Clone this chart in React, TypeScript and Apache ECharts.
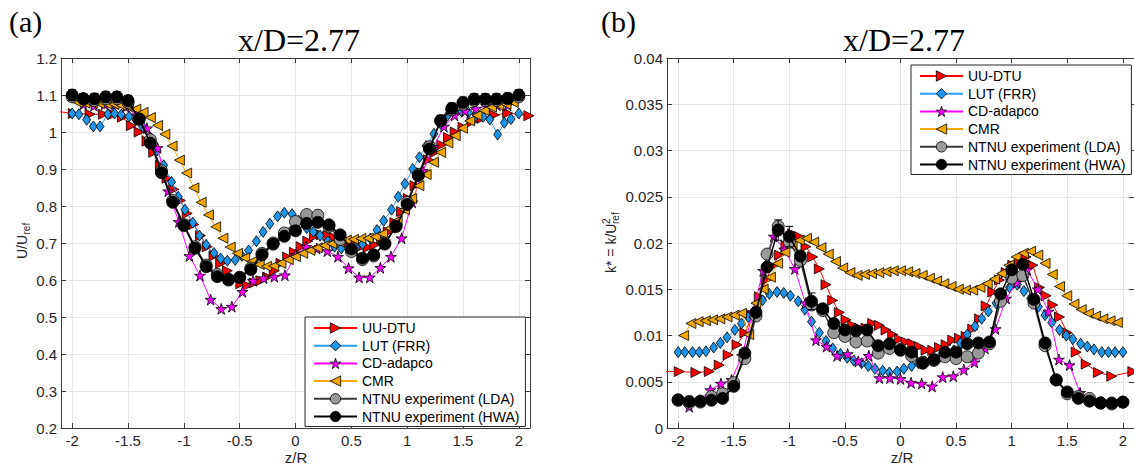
import { useEffect, useRef } from 'react';
import * as echarts from 'echarts';

// ---------- categories / names ----------
const names = ['UU-DTU', 'LUT (FRR)', 'CD-adapco', 'CMR', 'NTNU experiment (LDA)', 'NTNU experiment (HWA)'];
const xTicks = [-2, -1.5, -1, -0.5, 0, 0.5, 1, 1.5, 2];

// ---------- z/R positions of each data set ----------
const zExp = [-2, -1.9, -1.8, -1.7, -1.6, -1.5, -1.4, -1.3, -1.2, -1.1, -1, -0.9, -0.8, -0.7, -0.6, -0.5, -0.4, -0.3, -0.2, -0.1, 0,
  0.1, 0.2, 0.3, 0.4, 0.5, 0.6, 0.7, 0.8, 0.9, 1, 1.1, 1.2, 1.3, 1.4, 1.5, 1.6, 1.7, 1.8, 1.9, 2];
const zUU = [-2.25, -1.99, -1.84, -1.72, -1.63, -1.55, -1.47, -1.4,
  -1.33, -1.27, -1.21, -1.15, -1.09, -1.03, -0.97, -0.91, -0.85, -0.79, -0.73, -0.67, -0.61, -0.55, -0.49, -0.43, -0.37, -0.31, -0.25, -0.19, -0.13, -0.07, -0.01,
  0.05, 0.11, 0.17, 0.23, 0.29, 0.35, 0.41, 0.47, 0.53, 0.59, 0.65, 0.71, 0.77, 0.83, 0.89, 0.95, 1.01, 1.07, 1.13, 1.19, 1.25, 1.31, 1.37, 1.43,
  1.5, 1.58, 1.67, 1.78, 1.9, 2.09];
const zLUT = [-2, -1.94, -1.87, -1.81, -1.75, -1.68, -1.62, -1.56, -1.49, -1.43, -1.37, -1.3, -1.24, -1.18, -1.11, -1.05, -0.99, -0.92, -0.86, -0.8,
  -0.73, -0.67, -0.61, -0.54, -0.48, -0.42, -0.35, -0.29, -0.23, -0.16, -0.1, -0.03, 0.03, 0.1, 0.16, 0.22, 0.29, 0.35, 0.41, 0.48,
  0.54, 0.6, 0.67, 0.73, 0.79, 0.86, 0.92, 0.98, 1.05, 1.11, 1.17, 1.24, 1.3, 1.36, 1.43, 1.49, 1.55, 1.62, 1.68, 1.74, 1.81, 1.87, 1.93, 2];
const zCD = [-1.9, -1.805, -1.71, -1.615, -1.52, -1.425, -1.33, -1.235, -1.14, -1.045, -0.95, -0.855, -0.76, -0.665, -0.57, -0.475, -0.38, -0.285, -0.19, -0.095, 0,
  0.095, 0.19, 0.285, 0.38, 0.475, 0.57, 0.665, 0.76, 0.855, 0.95, 1.045, 1.14, 1.235, 1.33, 1.425, 1.52, 1.615, 1.71, 1.805, 1.9];
const zCMR = [-1.95, -1.885, -1.82, -1.755, -1.69, -1.625, -1.56, -1.495, -1.43, -1.365, -1.3, -1.235, -1.17, -1.105, -1.04, -0.975, -0.91, -0.845, -0.78, -0.715,
  -0.65, -0.585, -0.52, -0.455, -0.39, -0.325, -0.26, -0.195, -0.13, -0.065, 0, 0.065, 0.13, 0.195, 0.26, 0.325, 0.39, 0.455, 0.52, 0.585,
  0.65, 0.715, 0.78, 0.845, 0.91, 0.975, 1.04, 1.105, 1.17, 1.235, 1.3, 1.365, 1.43, 1.495, 1.56, 1.625, 1.69, 1.755, 1.82, 1.885, 1.95];

// ---------- panel (a): U/Uref ----------
const uUU = [1.06, 1.05, 1.048, 1.048, 1.048, 1.04, 1.017, 1.0,
  0.975, 0.945, 0.91, 0.875, 0.845, 0.815, 0.78, 0.75, 0.72, 0.69, 0.665, 0.645, 0.625, 0.605, 0.59, 0.585, 0.592, 0.598, 0.608, 0.625, 0.645, 0.662, 0.675,
  0.69, 0.705, 0.718, 0.722, 0.72, 0.715, 0.708, 0.702, 0.695, 0.69, 0.688, 0.695, 0.71, 0.73, 0.755, 0.785, 0.82, 0.855, 0.89, 0.925, 0.945, 0.965, 0.985, 1.0,
  1.013, 1.027, 1.037, 1.046, 1.051, 1.044];
const uLUT = [1.05, 1.048, 1.033, 1.015, 1.015, 1.048, 1.05, 1.047, 1.042, 1.033, 1.015, 0.985, 0.95, 0.91, 0.865, 0.825, 0.79, 0.755, 0.72, 0.695,
  0.673, 0.658, 0.652, 0.654, 0.665, 0.68, 0.705, 0.73, 0.752, 0.772, 0.782, 0.778, 0.76, 0.74, 0.73, 0.72, 0.705, 0.69, 0.685, 0.682,
  0.688, 0.697, 0.712, 0.735, 0.76, 0.79, 0.825, 0.86, 0.9, 0.932, 0.962, 0.995, 1.022, 1.044, 1.055, 1.055, 1.052, 1.047, 1.041, 1.034, 0.993, 1.025, 1.035, 1.05];
const uCD = [1.075, 1.071, 1.075, 1.075, 1.068, 1.045, 1.01, 0.957, 0.84, 0.757, 0.665, 0.612, 0.547, 0.522, 0.528, 0.568, 0.598, 0.605, 0.609, 0.613, 0.668,
  0.69, 0.685, 0.678, 0.663, 0.632, 0.607, 0.607, 0.633, 0.663, 0.713, 0.81, 0.895, 0.96, 1.015, 1.045, 1.057, 1.063, 1.07, 1.072, 1.072];
const uCMR = [1.08, 1.078, 1.077, 1.077, 1.076, 1.075, 1.072, 1.068, 1.062, 1.053, 1.039, 1.018, 0.994, 0.962, 0.924, 0.889, 0.849, 0.81, 0.776, 0.744,
  0.713, 0.689, 0.672, 0.66, 0.65, 0.642, 0.637, 0.638, 0.645, 0.655, 0.663, 0.672, 0.68, 0.687, 0.693, 0.698, 0.703, 0.708, 0.71, 0.712,
  0.713, 0.717, 0.725, 0.74, 0.76, 0.79, 0.82, 0.855, 0.885, 0.918, 0.945, 0.97, 0.99, 1.01, 1.03, 1.045, 1.058, 1.067, 1.072, 1.075, 1.08];
const uLDA = [1.095, 1.09, 1.085, 1.09, 1.09, 1.08, 1.035, 0.979, 0.895, 0.815, 0.75, 0.69, 0.64, 0.615, 0.602, 0.607, 0.632, 0.672, 0.7, 0.727, 0.758,
  0.777, 0.775, 0.745, 0.71, 0.677, 0.655, 0.665, 0.7, 0.745, 0.81, 0.885, 0.96, 1.03, 1.06, 1.075, 1.085, 1.085, 1.085, 1.09, 1.095];
const uHWA = [1.1, 1.09, 1.09, 1.095, 1.095, 1.085, 1.035, 0.97, 0.89, 0.81, 0.747, 0.686, 0.636, 0.609, 0.6, 0.607, 0.628, 0.668, 0.697, 0.718, 0.733,
  0.753, 0.756, 0.749, 0.722, 0.684, 0.659, 0.668, 0.697, 0.745, 0.804, 0.882, 0.954, 1.031, 1.064, 1.08, 1.089, 1.089, 1.089, 1.091, 1.1];
const uHWAerr = [0.014, 0.014, 0.014, 0.014, 0.014, 0.014, 0, 0, 0, 0, 0, 0, 0, 0, 0, 0, 0, 0, 0, 0, 0,
  0, 0, 0, 0, 0, 0, 0, 0, 0, 0, 0, 0, 0.014, 0.014, 0.014, 0.014, 0.014, 0.014, 0.014, 0.014];

// ---------- panel (b): k* ----------
const kUU = [0.0061, 0.0061, 0.006, 0.0061, 0.0068, 0.0079, 0.009, 0.0103,
  0.0122, 0.0142, 0.016, 0.0175, 0.0187, 0.0197, 0.021, 0.0207, 0.0196, 0.0185, 0.0172, 0.0155, 0.0138, 0.0125, 0.0117, 0.0111, 0.0108, 0.0108, 0.0113, 0.0111, 0.0106, 0.0101, 0.0096,
  0.0093, 0.0091, 0.0088, 0.0084, 0.0084, 0.0087, 0.009, 0.0095, 0.0097, 0.0099, 0.0107, 0.0118, 0.0132, 0.0147, 0.016, 0.0168, 0.0176, 0.018, 0.0185, 0.0176, 0.0152, 0.0143, 0.0133, 0.012,
  0.0103, 0.0082, 0.0069, 0.006, 0.0056, 0.0061];
const kLUT = [0.0082, 0.0082, 0.0082, 0.0082, 0.0083, 0.0087, 0.0092, 0.0098, 0.0106, 0.0113, 0.012, 0.0129, 0.0138, 0.0145, 0.0147, 0.0146, 0.0143, 0.0137, 0.0128, 0.0115,
  0.0103, 0.0094, 0.0086, 0.008, 0.0076, 0.0073, 0.007, 0.0067, 0.0064, 0.0062, 0.006, 0.0061, 0.0064, 0.0067, 0.007, 0.0072, 0.0074, 0.0076, 0.0079, 0.0084,
  0.0092, 0.0101, 0.011, 0.0118, 0.0126, 0.0135, 0.0143, 0.0152, 0.0155, 0.0148, 0.014, 0.0131, 0.0122, 0.0114, 0.0106, 0.01, 0.0096, 0.0091, 0.0088, 0.0085, 0.0082, 0.0082, 0.0082, 0.0082];
const kCD = [0.0023, 0.003, 0.0041, 0.0048, 0.0052, 0.0078, 0.0125, 0.017, 0.0207, 0.0193, 0.0172, 0.0135, 0.0095, 0.0088, 0.0078, 0.008, 0.0072, 0.0078, 0.0054, 0.0054, 0.0053,
  0.0049, 0.0048, 0.0045, 0.0055, 0.0056, 0.0063, 0.0071, 0.0086, 0.0107, 0.014, 0.0157, 0.0171, 0.015, 0.0126, 0.0074, 0.0068, 0.0038, 0.003, 0.0028, 0.0027];
const kCMR = [0.01, 0.0113, 0.0115, 0.0116, 0.0117, 0.0118, 0.012, 0.0122, 0.0124, 0.0101, 0.0135, 0.015, 0.0163, 0.0178, 0.019, 0.0197, 0.0203, 0.0205, 0.0201, 0.0195,
  0.0188, 0.018, 0.0173, 0.0168, 0.0165, 0.0166, 0.0167, 0.0168, 0.0169, 0.017, 0.017, 0.0169, 0.0167, 0.0165, 0.0162, 0.0159, 0.0156, 0.0153, 0.015, 0.0149,
  0.0149, 0.0152, 0.0156, 0.0161, 0.0167, 0.0176, 0.0185, 0.0189, 0.0191, 0.0187, 0.0178, 0.0166, 0.0153, 0.0143, 0.0134, 0.0128, 0.0124, 0.0121, 0.0118, 0.0116, 0.0114];
const kLDA = [0.003, 0.0027, 0.0028, 0.0034, 0.0037, 0.0049, 0.0075, 0.0121, 0.0188, 0.0218, 0.0201, 0.0181, 0.0133, 0.0127, 0.0103, 0.0099, 0.0093, 0.0094, 0.0081, 0.0086, 0.0085,
  0.0078, 0.0071, 0.0073, 0.0077, 0.0075, 0.0077, 0.0081, 0.0091, 0.0137, 0.0162, 0.0165, 0.0135, 0.0089, 0.0052, 0.0037, 0.0034, 0.0032, 0.0027, 0.0026, 0.0028];
const kHWA = [0.00305, 0.00287, 0.0029, 0.003, 0.0032, 0.0045, 0.0081, 0.0125, 0.0174, 0.0214, 0.0207, 0.0186, 0.0137, 0.0129, 0.0113, 0.0106, 0.0105, 0.0106, 0.0089, 0.0091, 0.0084,
  0.0082, 0.007, 0.0074, 0.0082, 0.0082, 0.0091, 0.0092, 0.0093, 0.0145, 0.0171, 0.0177, 0.0139, 0.0092, 0.0052, 0.0039, 0.0032, 0.0029, 0.0027, 0.0027, 0.0028];
const kHWAerr = [0, 0, 0, 0, 0, 0, 0, 0, 0, 0.0011, 0.0011, 0, 0.0009, 0, 0, 0, 0, 0, 0, 0, 0,
  0, 0, 0, 0, 0, 0, 0, 0, 0, 0, 0, 0, 0, 0, 0, 0, 0, 0, 0, 0];

// ---------- styling ----------
const STAR = 'path://M50,0L61.2,34.5L97.6,34.5L68.2,55.9L79.4,90.5L50,69.1L20.6,90.5L31.8,55.9L2.4,34.5L38.8,34.5Z';
const look: any[] = [
  { symbol: 'triangle', rotate: -90, size: 10, color: '#ff0000', line: '#ff0000', width: 1 },
  { symbol: 'diamond', rotate: 0, size: [8, 11], color: '#1e95e8', line: '#2a9df4', width: 1 },
  { symbol: STAR, rotate: 0, size: 11, color: '#ff00ff', line: '#ff00ff', width: 1 },
  { symbol: 'triangle', rotate: 90, size: 10, color: '#f2a700', line: '#f7a800', width: 1 },
  { symbol: 'circle', rotate: 0, size: 12, color: '#999999', line: '#3a3a3a', width: 1.5 },
  { symbol: 'circle', rotate: 0, size: 12, color: '#000000', line: '#000000', width: 1.5 },
];
const AX = '#3a3a3a';
const TXT = '#262626';
const GRIDC = '#e6e6e6';
const SANS = '"Liberation Sans", Arial, Helvetica, sans-serif';
const SERIF = '"Liberation Serif", "Times New Roman", serif';

function lineSeries(panel: number, sets: [number[], number[]][]) {
  return sets.map(([zs, vs], i) => ({
    type: 'line',
    name: names[i],
    xAxisIndex: panel * 2,
    yAxisIndex: panel * 2,
    data: zs.map((z, j) => [z, vs[j]]),
    symbol: look[i].symbol,
    symbolRotate: look[i].rotate,
    symbolSize: look[i].size,
    showSymbol: true,
    showAllSymbol: true,
    clip: true,
    itemStyle: { color: look[i].color, borderColor: '#000', borderWidth: 0.8 },
    lineStyle: { color: look[i].line, width: look[i].width },
    emphasis: { disabled: true },
    z: 2 + i,
  }));
}

function errorSeries(panel: number, vals: number[], errs: number[]) {
  const data: number[][] = [];
  zExp.forEach((z, i) => {
    if (errs[i] > 0) data.push([z, vals[i] - errs[i], vals[i] + errs[i]]);
  });
  return {
    type: 'custom',
    xAxisIndex: panel * 2,
    yAxisIndex: panel * 2,
    data,
    silent: true,
    z: 9,
    renderItem: (_p: any, api: any) => {
      const x = api.value(0);
      const lo = api.coord([x, api.value(1)]);
      const hi = api.coord([x, api.value(2)]);
      const c = 4;
      const st = { stroke: '#000', lineWidth: 1 };
      return {
        type: 'group',
        children: [
          { type: 'line', shape: { x1: lo[0], y1: lo[1], x2: hi[0], y2: hi[1] }, style: st },
          { type: 'line', shape: { x1: hi[0] - c, y1: hi[1], x2: hi[0] + c, y2: hi[1] }, style: st },
          { type: 'line', shape: { x1: lo[0] - c, y1: lo[1], x2: lo[0] + c, y2: lo[1] }, style: st },
        ],
      };
    },
  };
}

function xAxes(gridIndex: number) {
  const base = {
    type: 'value', gridIndex, min: -2.1, max: 2.1,
    axisLine: { show: true, onZero: false, lineStyle: { color: AX, width: 1 } },
    axisTick: { show: true, inside: true, length: 5, customValues: xTicks, lineStyle: { color: AX } },
  };
  return [
    {
      ...base, position: 'bottom',
      axisLabel: { customValues: xTicks, color: TXT, fontSize: 15, fontFamily: SANS, margin: 5 },
      splitLine: { show: true, lineStyle: { color: GRIDC, width: 1 } },
    },
    { ...base, position: 'top', axisLabel: { show: false }, splitLine: { show: false } },
  ];
}

function yAxes(gridIndex: number, min: number, max: number, interval: number) {
  const base = {
    type: 'value', gridIndex, min, max, interval,
    axisLine: { show: true, onZero: false, lineStyle: { color: AX, width: 1 } },
    axisTick: { show: true, inside: true, length: 5, lineStyle: { color: AX } },
  };
  return [
    {
      ...base, position: 'left',
      axisLabel: { color: TXT, fontSize: 15, fontFamily: SANS, margin: 4 },
      splitLine: { show: true, lineStyle: { color: GRIDC, width: 1 } },
    },
    { ...base, position: 'right', axisLabel: { show: false }, splitLine: { show: false } },
  ];
}

function legend(left: number, top: number) {
  return {
    data: names.map((n, i) => ({ name: n, itemStyle: { color: look[i].color, borderColor: '#000', borderWidth: 0.8 } })),
    orient: 'vertical',
    left, top,
    itemWidth: 43,
    itemHeight: 13,
    itemGap: 3.7,
    padding: [4, 6, 3, 8],
    borderColor: '#262626',
    borderWidth: 1,
    backgroundColor: '#ffffff',
    borderRadius: 0,
    selectedMode: false,
    textStyle: { fontSize: 14, fontFamily: SANS, color: '#000' },
  };
}

function text(x: number, y: number, s: string, font: string, align = 'center', extra: any = {}) {
  return { type: 'text', x, y, silent: true, style: { text: s, font, fill: '#000', align, verticalAlign: 'middle', ...extra } };
}

export default function App() {
  const ref = useRef<HTMLDivElement>(null);
  useEffect(() => {
    if (!ref.current) return;
    const chart = echarts.init(ref.current, null, { renderer: 'svg' });
    const option: any = {
      animation: false,
      backgroundColor: '#ffffff',
      grid: [
        { left: 61, top: 58, width: 469, height: 370 },
        { left: 667, top: 58, width: 470, height: 370 },
      ],
      xAxis: [...xAxes(0), ...xAxes(1)],
      yAxis: [...yAxes(0, 0.2, 1.2, 0.1), ...yAxes(1, 0, 0.04, 0.005)],
      legend: [legend(305, 317), legend(911, 65)],
      series: [
        ...lineSeries(0, [[zUU, uUU], [zLUT, uLUT], [zCD, uCD], [zCMR, uCMR], [zExp, uLDA], [zExp, uHWA]]),
        errorSeries(0, uHWA, uHWAerr),
        ...lineSeries(1, [[zUU, kUU], [zLUT, kLUT], [zCD, kCD], [zCMR, kCMR], [zExp, kLDA], [zExp, kHWA]]),
        errorSeries(1, kHWA, kHWAerr),
      ],
      graphic: [
        text(9, 21, '(a)', `30px ${SERIF}`, 'left'),
        text(601, 21, '(b)', `30px ${SERIF}`, 'left'),
        text(299, 40, 'x/D=2.77', `32px ${SERIF}`),
        text(904, 40, 'x/D=2.77', `32px ${SERIF}`),
        text(296, 457, 'z/R', `15px ${SANS}`, 'center', { fill: TXT }),
        text(902, 457, 'z/R', `15px ${SANS}`, 'center', { fill: TXT }),
        {
          type: 'group', x: 22, y: 240, rotation: Math.PI / 2, silent: true,
          children: [
            text(-19, 0, 'U/U', `14px ${SANS}`, 'left', { fill: TXT }),
            text(5.5, 4, 'ref', `10px ${SANS}`, 'left', { fill: TXT }),
          ],
        },
        {
          type: 'group', x: 611, y: 243, rotation: Math.PI / 2, silent: true,
          children: [
            text(-30, 0, 'k* = k/U', `14px ${SANS}`, 'left', { fill: TXT }),
            text(19, -5, '2', `10px ${SANS}`, 'left', { fill: TXT }),
            text(19, 4.5, 'ref', `10px ${SANS}`, 'left', { fill: TXT }),
          ],
        },
      ],
    };
    chart.setOption(option);
    return () => chart.dispose();
  }, []);
  return <div ref={ref} style={{ position: 'absolute', left: 0, top: 0, width: 1134, height: 468 }} />;
}
